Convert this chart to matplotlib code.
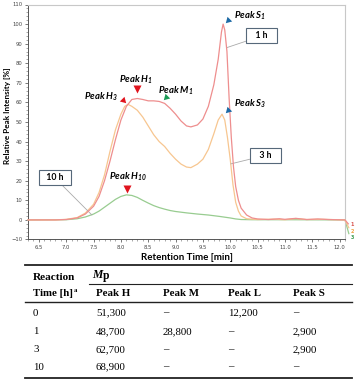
import matplotlib
matplotlib.use("Agg")
import matplotlib.pyplot as plt
from matplotlib.lines import Line2D
from matplotlib.ticker import MultipleLocator

# ---------------- data ----------------
x_1h = [6.3, 6.8, 7.0, 7.2, 7.35, 7.5, 7.6, 7.7, 7.8, 7.9, 8.0, 8.1, 8.2, 8.3, 8.4, 8.5, 8.6, 8.7,
        8.8, 8.9, 9.0, 9.1, 9.2, 9.28, 9.4, 9.5, 9.6, 9.7, 9.78, 9.84, 9.87, 9.9, 9.94, 9.98, 10.02,
        10.06, 10.1, 10.15, 10.2, 10.3, 10.4, 10.5, 10.7, 10.9, 11.0, 11.2, 11.4, 11.6, 11.8, 12.1, 12.16]
y_1h = [0, 0, 0.2, 1, 3, 7, 12, 20, 30, 41, 51, 58, 61.5, 62, 61.5, 60.8, 60.8, 60.5,
        59.5, 57, 54, 50.5, 48, 47.5, 48.5, 51.5, 58, 69, 82, 96, 100, 97, 86, 62, 42,
        27, 17, 10, 6, 2.5, 1, 0.5, 0.2, 0.6, 0.3, 0.8, 0.2, 0.5, 0.2, 0, -2]

x_3h = [6.3, 6.8, 7.0, 7.2, 7.35, 7.5, 7.6, 7.7, 7.8, 7.9, 8.0, 8.07, 8.13, 8.2, 8.3, 8.4, 8.5, 8.6,
        8.7, 8.8, 8.9, 9.0, 9.1, 9.2, 9.28, 9.4, 9.5, 9.6, 9.7, 9.78, 9.85, 9.9, 9.95, 10.0, 10.05,
        10.1, 10.15, 10.2, 10.3, 10.5, 10.8, 11.0, 11.2, 11.4, 11.7, 12.1, 12.17]
y_3h = [0, 0, 0.3, 1.2, 3.5, 8, 14, 23, 35, 46, 54, 58, 59, 58, 56, 52.5, 48, 43.5,
        40, 37.5, 34, 31, 28.5, 27, 26.7, 28.5, 31, 36, 44, 51, 54, 51, 42, 31, 18,
        9, 4.5, 2, 0.6, 0.2, 0.4, 0.1, 0.7, 0.2, 0.3, 0, -4]

x_10h = [6.3, 7.0, 7.2, 7.35, 7.5, 7.6, 7.7, 7.8, 7.9, 8.0, 8.1, 8.2, 8.3, 8.4, 8.5, 8.6, 8.7,
         8.8, 8.9, 9.0, 9.2, 9.4, 9.6, 9.8, 10.0, 10.1, 10.2, 10.4, 11.0, 12.1, 12.17]
y_10h = [0, 0.1, 0.6, 1.5, 3, 4.5, 6.5, 8.5, 10.5, 12, 12.8, 12.5, 11.5, 10, 8.6, 7.3, 6.3,
         5.5, 4.8, 4.3, 3.6, 3.0, 2.5, 1.8, 1.0, 0.5, 0.2, 0.1, 0.1, 0.0, -7]

x_ticks = [6.5, 7.0, 7.5, 8.0, 8.5, 9.0, 9.5, 10.0, 10.5, 11.0, 11.5, 12.0]
y_ticks = [-10, 0, 10, 20, 30, 40, 50, 60, 70, 80, 90, 100, 110]

# peak markers: label, marker position, label position
peak_labels = ["Peak H$_3$", "Peak H$_1$", "Peak M$_1$", "Peak S$_1$", "Peak S$_3$", "Peak H$_{10}$"]
peak_mx = [8.04, 8.29, 8.82, 9.96, 9.96, 8.11]
peak_my = [61, 67, 63, 102, 56.3, 16]
peak_tx = [7.63, 8.27, 9.0, 10.36, 10.36, 8.13]
peak_ty = [63, 71.8, 66, 104, 59.3, 22]

# table
table_times = ["0", "1", "3", "10"]
table_cols = ["Peak H", "Peak M", "Peak L", "Peak S"]
mp_H = ["51,300", "48,700", "62,700", "68,900"]
mp_M = ["–", "28,800", "–", "–"]
mp_L = ["12,200", "–", "–", "–"]
mp_S = ["–", "2,900", "2,900", "–"]

# ---------------- figure ----------------
W, H = 356, 383
fig = plt.figure(figsize=(W / 100, H / 100), dpi=100)
plt.rcParams['mathtext.fontset'] = 'custom'
plt.rcParams['mathtext.rm'] = 'Lato:bold:italic'
plt.rcParams['mathtext.it'] = 'Lato:bold:italic'
plt.rcParams['mathtext.bf'] = 'Lato:bold:italic'

def fx(px):
    return px / W

def fy(py):
    return 1 - py / H

ax = fig.add_axes([fx(28), fy(239.5), fx(345) - fx(28), fy(4.5) - fy(239.5)])
ax.set_xlim(6.3, 12.1)
ax.set_ylim(-10, 110)

c_red, c_org, c_grn = '#ee8e8e', '#f7c690', '#98cc90'
ax.plot(x_3h, y_3h, color=c_org, lw=0.9, clip_on=False, zorder=3)
ax.plot(x_1h, y_1h, color=c_red, lw=0.9, clip_on=False, zorder=4)
ax.plot(x_10h, y_10h, color=c_grn, lw=0.9, clip_on=False, zorder=2)

for s, c, yy in zip(["1", "2", "3"], ['#d9534f', '#f0a040', '#3a9a50'], [-2.5, -5.8, -9.0]):
    ax.text(12.23, yy, s, color=c, fontsize=3.5, fontweight='bold', ha='center', va='center',
            clip_on=False)

ax.set_xticks(x_ticks)
ax.set_xticklabels([f"{v:.1f}" for v in x_ticks])
ax.set_yticks(y_ticks)
ax.xaxis.set_minor_locator(MultipleLocator(0.1))
ax.yaxis.set_minor_locator(MultipleLocator(2))
ax.tick_params(axis='both', which='major', labelsize=3.8, length=2.5, width=0.5,
               colors='#444444', pad=1.5)
ax.tick_params(axis='both', which='minor', length=1.3, width=0.4, colors='#666666')
for sp in ['left', 'bottom']:
    ax.spines[sp].set_color('#555555')
    ax.spines[sp].set_linewidth(0.7)
for sp in ['top', 'right']:
    ax.spines[sp].set_color('#c8c8c8')
    ax.spines[sp].set_linewidth(0.8)

# markers
red_m, grn_m, blu_m = '#e0141e', '#1a9a55', '#1d6aa5'
mk_style = [(3, 0, 225), 'v', (3, 0, 135), (3, 0, 135), (3, 0, 135), 'v']
mk_col = [red_m, red_m, grn_m, blu_m, blu_m, red_m]
for i in range(len(peak_labels)):
    ax.plot(peak_mx[i], peak_my[i], marker=mk_style[i], color=mk_col[i], ms=5.5,
            mec='none', ls='none', zorder=6)
    ax.text(peak_tx[i], peak_ty[i], peak_labels[i], fontsize=6.8, family='Lato',
            fontweight='bold', style='italic', ha='center', va='center', color='#000000')

box = dict(boxstyle='square,pad=0.35', fc='white', ec='#56687a', lw=0.8)
arrow = dict(arrowstyle='-', color='#aaaaaa', lw=0.6, shrinkA=0, shrinkB=0)
ax.annotate("   1 h   ", xy=(9.94, 88), xytext=(10.58, 94), fontsize=6.3, fontweight='bold',
            family='Lato', ha='center', va='center', bbox=box, arrowprops=arrow)
ax.annotate("   3 h   ", xy=(10.01, 28.6), xytext=(10.65, 33), fontsize=6.3, fontweight='bold',
            family='Lato', ha='center', va='center', bbox=box, arrowprops=arrow)
ax.annotate("  10 h  ", xy=(7.47, 2.5), xytext=(6.79, 21.5), fontsize=6.3, fontweight='bold',
            family='Lato', ha='center', va='center', bbox=box, arrowprops=arrow)

fig.text(fx(8), fy(116), "Relative Peak Intensity [%]", rotation=90, fontsize=5.9,
         fontweight='bold', family='Lato', ha='center', va='center')
fig.text(fx(187), fy(258), "Retention Time [min]", fontsize=7.0, fontweight='bold',
         family='Lato', ha='center', va='center')

# ---------------- table ----------------
def hline(py, x0, x1, lw):
    fig.add_artist(Line2D([fx(x0), fx(x1)], [fy(py), fy(py)], color='#222222', lw=lw))

hline(265, 25, 352, 1.3)
hline(284, 89, 352, 0.8)
hline(302, 25, 352, 1.0)
hline(378, 25, 352, 1.3)

serif = 'Liberation Serif'
fs = 7.8
fig.text(fx(33), fy(277), "Reaction", family=serif, fontweight='bold', fontsize=fs + 0.3,
         ha='left', va='center')
fig.text(fx(33), fy(293), "Time [h]", family=serif, fontweight='bold', fontsize=fs,
         ha='left', va='center')
fig.text(fx(74), fy(290), "a", family=serif, fontweight='bold', fontsize=4.8,
         ha='left', va='center')
fig.text(fx(92), fy(275), "M", family=serif, fontweight='bold', style='italic', fontsize=fs + 0.6,
         ha='left', va='center')
fig.text(fx(103), fy(276), "p", family=serif, fontweight='bold', fontsize=fs + 0.6,
         ha='left', va='center')

col_x = [96, 163, 228, 293]
for cx, name in zip(col_x, table_cols):
    fig.text(fx(cx), fy(293), name, family=serif, fontweight='bold', fontsize=fs,
             ha='left', va='center')

row_y = [313, 331.5, 349.5, 367]
for ry, t, h_, m_, l_, s_ in zip(row_y, table_times, mp_H, mp_M, mp_L, mp_S):
    fig.text(fx(33), fy(ry), t, family=serif, fontsize=fs, ha='left', va='center')
    for cx, v in zip(col_x, [h_, m_, l_, s_]):
        fig.text(fx(cx), fy(ry), v, family=serif, fontsize=fs, ha='left', va='center')

fig.savefig("out.png", dpi=100)
